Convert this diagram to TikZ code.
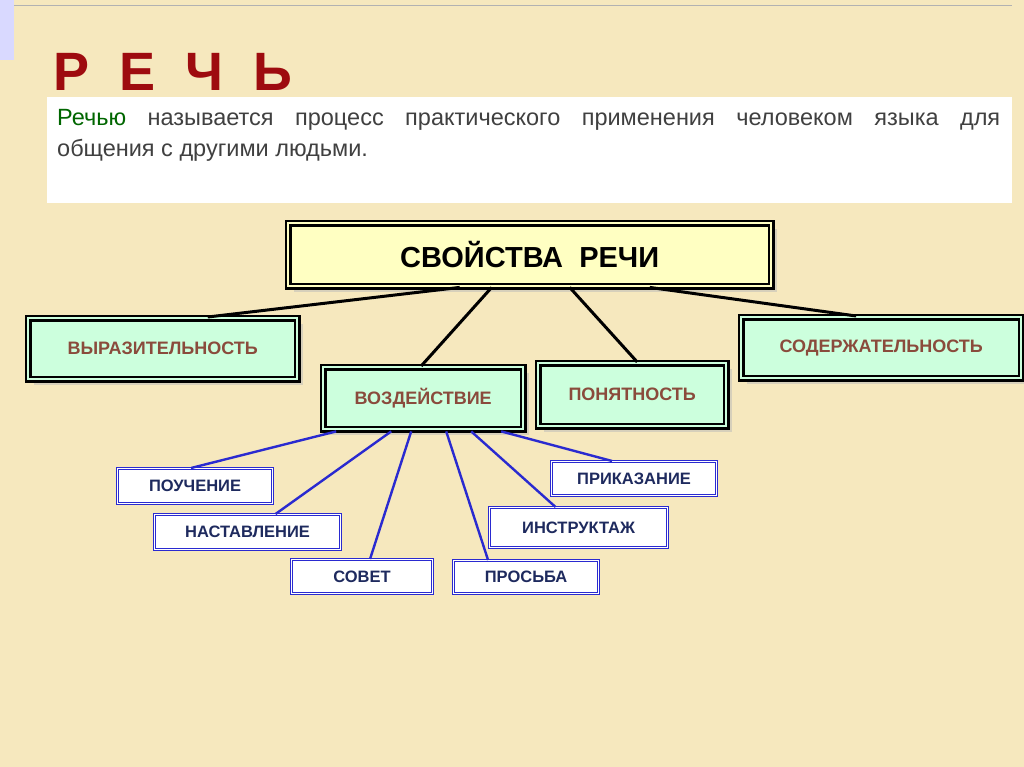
\documentclass[tikz,border=0pt]{standalone}
\usepackage{fontspec}
\setmainfont{Liberation Sans}
\usetikzlibrary{calc,shadows}
\definecolor{bg}{HTML}{F6E8BE}
\definecolor{dred}{HTML}{9E0B0F}
\definecolor{boxg}{HTML}{CCFFDD}
\definecolor{brn}{HTML}{8A4B3C}
\definecolor{ttl}{HTML}{FFFFC2}
\definecolor{navy}{HTML}{1E2A5E}
\definecolor{bl}{HTML}{2A2AD0}
\begin{document}
\begin{tikzpicture}[x=1pt,y=-1pt,
 gbox/.style={draw=black,double=boxg,double distance=2pt,line width=2.4pt,fill=boxg,
   font=\bfseries\fontsize{18}{20}\selectfont,text=brn,anchor=north west,inner sep=0pt,
   drop shadow={shadow xshift=6pt,shadow yshift=-6pt,fill=gray!55}},
 bbox/.style={draw=bl,double=white,double distance=1.5pt,line width=1.1pt,fill=white,
   font=\bfseries\fontsize{16.5}{18}\selectfont,text=navy,anchor=north west,inner sep=0pt},
 bk/.style={line width=3pt,black},
 bu/.style={line width=2.4pt,bl}]
\useasboundingbox (0,0) rectangle (1024,767);
\fill[bg] (0,0) rectangle (1024,767);
\fill[blue!15] (0,0) rectangle (14,60);
\draw[gray!60] (14,5) -- (1012,5);
\node[text=dred,font=\bfseries\fontsize{54}{58}\selectfont,anchor=west] (rech) at (50,72) {Р\ \ Е\ \ Ч\ \ Ь};
\node[fill=white,anchor=north west,minimum width=965pt,minimum height=106pt,inner sep=0pt] (defbox) at (47,97) {};
\node[anchor=north west,align=left,inner sep=0pt,font=\fontsize{23.5}{31}\selectfont,text=black!75] (def) at (57,109)
 {\makebox[943pt][s]{{\color{green!40!black}Речью} называется процесс практического применения человеком языка для}\\ общения с другими людьми.};
\node[draw=black,double=ttl,double distance=2.5pt,line width=2.4pt,fill=ttl,anchor=north west,
 minimum width=483pt,minimum height=63pt,inner sep=0pt,font=\bfseries\fontsize{29}{32}\selectfont,
 drop shadow={shadow xshift=6pt,shadow yshift=-6pt,fill=gray!55}] (title) at (287,222) {СВОЙСТВА\ \ РЕЧИ};
\node[gbox,minimum width=269pt,minimum height=61pt] (vyr) at (27,317) {ВЫРАЗИТЕЛЬНОСТЬ};
\node[gbox,minimum width=200pt,minimum height=62pt] (voz) at (322,366) {ВОЗДЕЙСТВИЕ};
\node[gbox,minimum width=188pt,minimum height=63pt] (pon) at (537,362) {ПОНЯТНОСТЬ};
\node[gbox,minimum width=280pt,minimum height=61pt] (sod) at (740,316) {СОДЕРЖАТЕЛЬНОСТЬ};
\node[bbox,minimum width=155pt,minimum height=35pt] (pou) at (117,468) {ПОУЧЕНИЕ};
\node[bbox,minimum width=186pt,minimum height=35pt] (nas) at (154,514) {НАСТАВЛЕНИЕ};
\node[bbox,minimum width=141pt,minimum height=34pt] (sov) at (291,559) {СОВЕТ};
\node[bbox,minimum width=145pt,minimum height=33pt] (pro) at (453,560) {ПРОСЬБА};
\node[bbox,minimum width=178pt,minimum height=40pt] (ins) at (489,507) {ИНСТРУКТАЖ};
\node[bbox,minimum width=165pt,minimum height=34pt] (pri) at (551,461) {ПРИКАЗАНИЕ};
\draw[bk] ([xshift=-70pt]title.south) -- ([xshift=45pt]vyr.north);
\draw[bk] ([xshift=-38pt]title.south) -- ([xshift=-2pt]voz.north);
\draw[bk] ([xshift=40pt]title.south) -- ([xshift=5pt]pon.north);
\draw[bk] ([xshift=120pt]title.south) -- ([xshift=-25pt]sod.north);
\draw[bu] ([xshift=-87pt,yshift=-1pt]voz.south) -- ([xshift=-4pt]pou.north);
\draw[bu] ([xshift=-32pt,yshift=-1pt]voz.south) -- ([xshift=28pt]nas.north);
\draw[bu] ([xshift=-12pt,yshift=-1pt]voz.south) -- ([xshift=8pt]sov.north);
\draw[bu] ([xshift=23pt,yshift=-1pt]voz.south) -- ([xshift=-38pt]pro.north);
\draw[bu] ([xshift=48pt,yshift=-1pt]voz.south) -- ([xshift=-23pt]ins.north);
\draw[bu] ([xshift=78pt,yshift=-1pt]voz.south) -- ([xshift=-22pt]pri.north);
\end{tikzpicture}
\end{document}
